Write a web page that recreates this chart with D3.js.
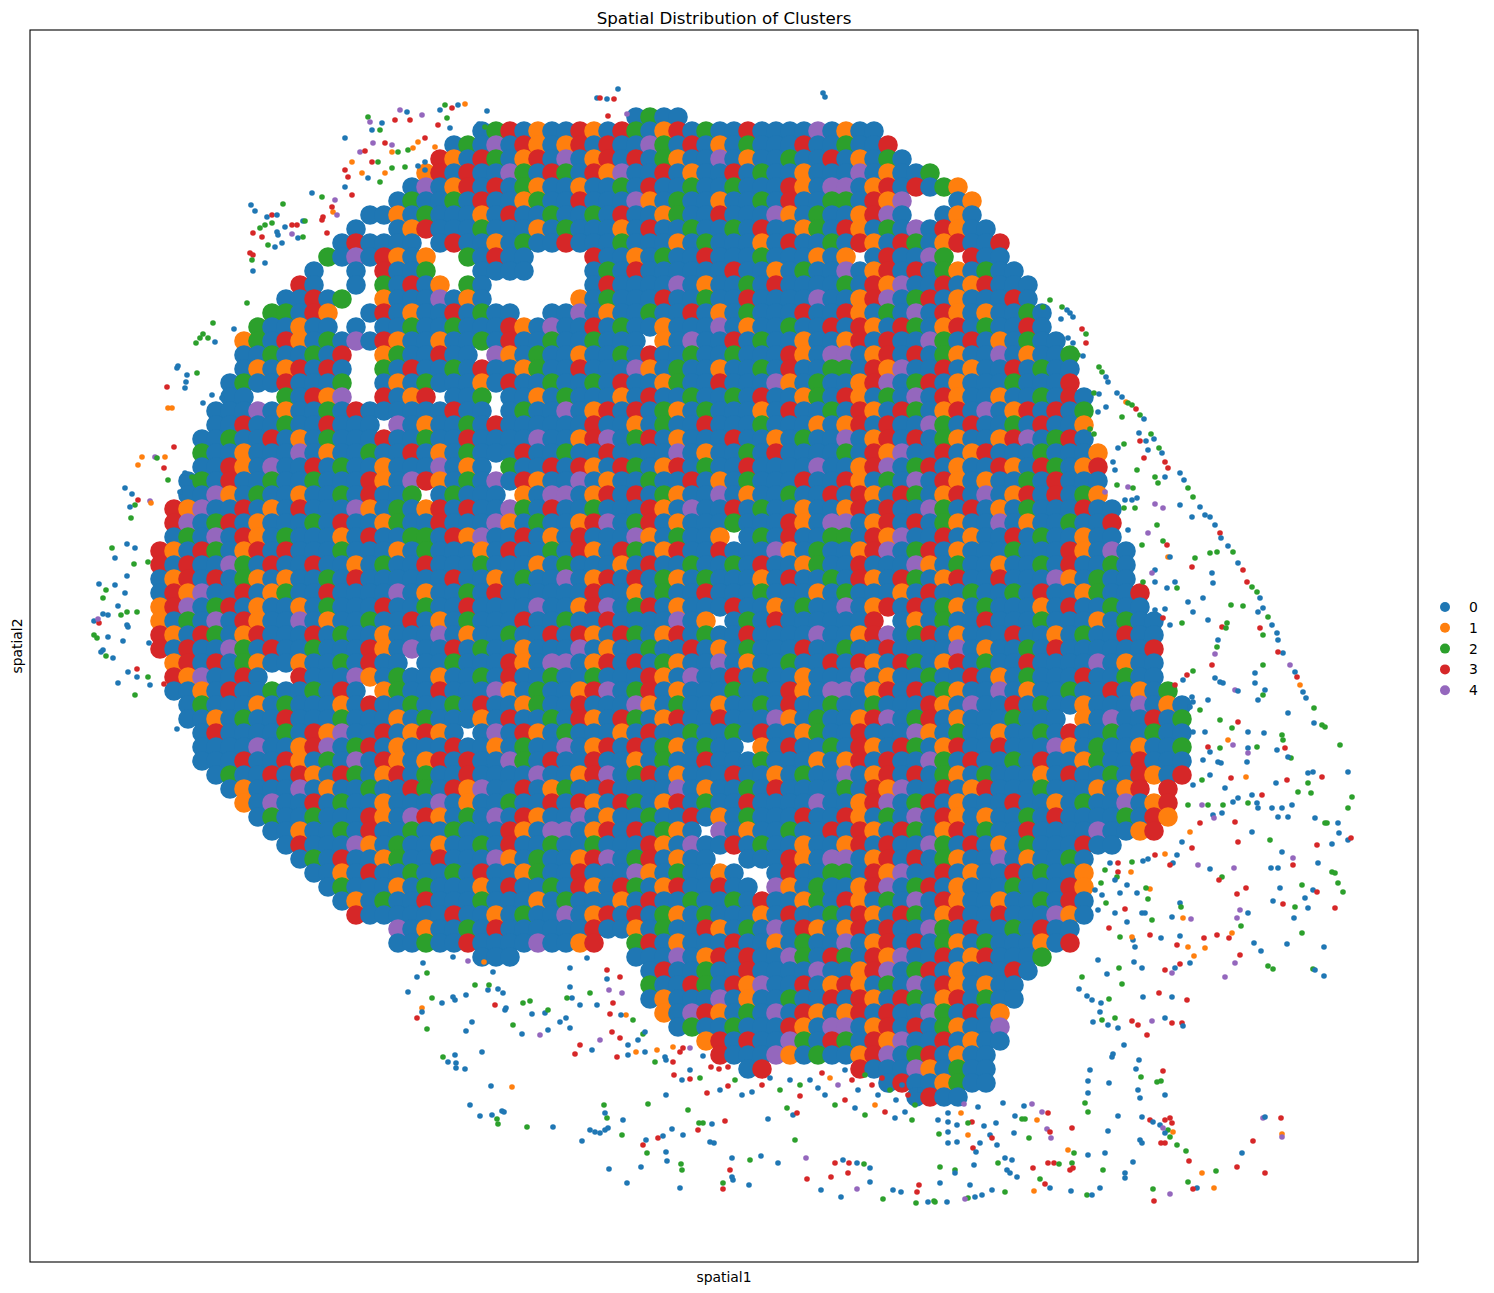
<html>
<head>
  <meta charset="utf-8">
  <script src="https://d3js.org/d3.v7.min.js"></script>
  <title>Spatial Distribution of Clusters</title>
  <style>
    body { margin: 0; background: #fff; }
    text { font-family: "DejaVu Sans", sans-serif; fill: #000; }
  </style>
</head>
<body>
  <svg id="chart" width="1494" height="1293"></svg>

  <script>
    // cluster labels and their tab10 colours
    const clusters = ["0", "1", "2", "3", "4"];
    const clusterColors = ["#1f77b4", "#ff7f0e", "#2ca02c", "#d62728", "#9467bd"];

    // extent of both spatial axes
    const spatial1Range = [30, 1418];
    const spatial2Range = [30, 1262];

    // the tissue, binned on a square grid (bin centres start at gridOrigin, gridStep apart).
    // one character per bin = cluster seen there, "." = no cells. Spaces only group columns by ten.
    const gridOrigin = [146, 117];
    const gridStep = 14;
    const tissueRows = [
      ".......... .......... .......... .....0200",
      ".......... .......... ....023010 0310320130 2003000040 100",
      ".......... .......... ..02040310 1303004203 0102000300 2003",
      ".......... .......... .310320130 4013030210 0401002003 01020",
      ".......... .......... 1303004203 2031400301 0030200100 0401002",
      ".......... .........0 4013030210 0100203002 0020003104 401303021",
      ".......... ........02 0020300120 0300041020 0100203002 20314...01",
      ".......... ......0010 2000103002 0020300120 0300041020 01340..010",
      ".......... .....0..01 3000200010 2000103002 0020300120 3102040310 0",
      ".......... ....030000 .030010200 3000200010 2000103002 0310320130 03",
      ".......... ...2040310 1..20300.. ..30010200 3000200010 1.030042.3 00",
      ".......... ..0..0.300 2...0000.. ..02030000 0030010200 4013030210 200",
      ".......... .30..0.203 01.20..... ..03000040 1002030000 2031400301 3000",
      ".......... 00302..100 04010..... .102000300 2003000040 0134023010 0030",
      ".........2 2031..0301 0030200..0 0401002003 0102000300 3102040310 10020",
      "........20 0100.0.002 0020003104 0030200100 0401002003 0310320130 20030",
      ".......120 3102040310 0100203002 002000.104 0030200100 1303004203 010200",
      ".......002 00203..120 0300.41020 0100203002 0020003104 4013030210 0401002",
      ".......010 13030..203 0020300120 0300041020 0100203002 2031400301 0030200",
      "......0200 30002..010 2000103002 0020300120 0300041020 0134023010 0020003",
      "......00.. 20314..301 3.002.0010 2000103002 0020300120 3102040310 01002030",
      ".....00040 1002030000 00300.0200 4013030210 2000103002 0310320130 40130302",
      ".....00300 2003000.40 1002030000 0030010200 3000200010 1303004203 00203001",
      "....002003 0102000300 2003000040 0134023010 0030010200 4013030210 01340230",
      "....200100 0401002003 0102000300 2003000040 1002030000 2031400301 300020001",
      "....003104 0030200100 04010.2003 0310320130 2003000040 0134023010 031032013",
      "...0203002 0020003104 3102040310 0401002003 0102000300 3102040310 100203000",
      "...0041020 0100203002 .02000.104 4013030210 0401002003 0310320130 401303021",
      "..31400301 0300041020 1303004203 0020003104 0030200100 1303004203 0102000300",
      "..34023010 0020300120 0300041020 0134023010 0020003104 4013030210 0401002003",
      "..02040310 2000103002 2031400301 0300041020 01.0203002 2031400301 0030200100",
      ".310320130 3000200010 2000103002 0310320130 0300041020 0134023010 0020003104 0",
      ".303004203 0030010200 3000200010 2000103002 0020300120 0300041020 0100203002 0",
      ".013030210 1002030000 0030010200 4013030210 2000103002 0310320130 0300041020 0",
      ".031400301 2003000040 1002030000 0030010200 3000200010 2000103002 0020300120 03",
      ".134023010 0102000300 2003000040 0134023010 0030010200 4013030210 2000103002 00",
      ".102040310 0401002003 0102000300 2003000040 1.02030000 003.010200 3000200010 200",
      ".310320130 0030200100 0401002003 0310320130 2003000040 0134023010 0030010200 300",
      ".303004203 0020003104 0030200100 0401002003 0102000300 2003000040 1002030000 003",
      "..13030210 010020300. 0020003104 4013030210 0401002003 0310320130 2003000040 100",
      "..3140030. .300041020 0100203002 0020003104 0030200100 0401002003 0102000300 200",
      "..00103002 002030.120 0300041020 0134023010 0020003104 4013030210 0401002003 0102",
      "...0200010 2000103002 0020300120 0300041020 0100203002 0020003104 0030200100 04010",
      "...0010200 3000200010 2000103002 0310320130 0300041020 0134023010 002000.104 00302",
      "....030000 2031400301 310.040310 2000103002 0020300120 0300041020 0100203002 00200",
      "....000040 0134023010 0030010200 4013030210 200.103002 0310320130 0300041020 01002",
      "....000300 3102040310 1303004203 0030010200 3000200010 1303004203 0020300120 03000",
      ".....02003 0310320130 2003000040 0134023010 0030010200 4013030210 2000103002 03103",
      "......0100 0401002003 2031400301 2003000040 1002030000 2031400301 3000200010 13.3",
      ".......104 0030200100 0401002003 0310320130 2003000040 0134023010 0030010200 4013",
      "........02 0020003104 3102040310 0401002003 0102000300 3102040310 1002030000 2031",
      ".........0 0100203002 0020003104 4013030210 .401002003 0310320130 2003000040 013",
      ".......... 0300041020 0100203002 0020003104 0030200100 1303004203 0102000300",
      ".......... .020300120 0300041020 0134023010 0..0003104 4013030210 04010020",
      ".......... ..00103002 0020300120 0300041020 010..03002 2031400301 00302001",
      ".......... ...0200010 2000103002 0310320130 0300.41020 0134023010 00200031",
      ".......... ....010200 3000200010 2000103002 0020300120 3102040310 01002030",
      ".......... .....30000 0030010200 4013030210 2000103002 0310320130 03000410",
      ".......... ........40 1002030000 0030010200 3102040310 1303004203 0020300",
      ".......... ........00 2003000040 013..23010 0030010200 4013030210 2000103",
      ".......... .......... ....000... .....00040 1303004203 2031400301 30002",
      ".......... .......... .......... ......0300 2003000040 0134023010 0030",
      ".......... .......... .......... ......2003 2031400301 3102040310 100",
      ".......... .......... .......... ......0100 0401002003 0310320130 200",
      ".......... .......... .......... .......104 3102040310 1303004203 01",
      ".......... .......... .......... ........02 0020003104 4013030210 04",
      ".......... .......... .......... .......... 1303004203 2031400301 00",
      ".......... .......... .......... .......... .300041020 0134023010 0",
      ".......... .......... .......... .......... ...03..... .300041020 0",
      ".......... .......... .......... .......... .......... ...0300120 0",
      ".......... .......... .......... .......... .......... .....0300"
    ];

    // single cells lying loose around the section: [spatial1, spatial2, cluster]
    const looseCells = [
      [618,89,0],[597,98,0],[600,98,3],[607,99,0],[614,99,3],[608,116,3],[627,114,4],[823,93,0],[825,97,0],
      [445,105,2],[440,110,0],[452,108,3],[447,118,2],[438,125,3],[450,128,0],[458,105,0],[465,104,1],
      [400,110,4],[407,112,0],[422,115,4],[487,111,0],[479,124,0],[485,127,2],
      [368,117,2],[370,122,4],[382,123,0],[372,130,0],[380,130,2],[395,120,3],[410,120,3],
      [345,138,0],[360,152,4],[365,151,3],[373,143,4],[385,143,3],[392,145,4],[392,152,1],[398,152,2],
      [408,150,2],[413,148,1],[418,142,1],[425,138,3],[435,147,1],[425,162,0],
      [352,162,1],[372,162,3],[378,162,2],[345,170,3],[348,177,3],[362,173,1],[368,178,0],[380,182,2],
      [392,168,2],[405,167,2],[418,166,0],[425,170,0],[385,173,1],
      [345,187,0],[352,195,3],[335,200,4],[322,197,2],[312,193,0],[333,212,1],[337,215,4],[332,207,3],
      [323,217,3],[322,220,3],[327,233,3],
      [283,204,2],[251,205,0],[255,211,0],[267,217,0],[272,215,3],[277,215,0],[285,227,0],[292,225,3],
      [297,225,3],[303,221,0],[305,221,2],[260,228,2],[265,225,2],[272,223,2],[262,237,3],[277,232,0],
      [278,235,0],[292,234,4],[298,238,0],[303,237,2],[268,245,2],[275,247,0],[282,243,0],[253,233,3],
      [250,253,3],[253,255,3],[252,260,2],[265,263,0],[253,271,0],[247,303,2],
      [213,323,2],[203,334,2],[200,338,2],[196,343,2],[208,338,2],[215,342,0],[234,329,0],
      [178,366,0],[177,368,0],[187,375,0],[197,373,2],[186,382,0],[185,388,0],[167,387,3],[168,408,1],
      [172,408,1],[212,395,0],[203,403,0],[222,398,0],
      [174,447,3],[142,457,1],[155,457,4],[165,457,1],
      [138,465,1],[157,458,2],[164,468,3],[168,480,2],[185,473,0],[192,477,2],
      [125,488,0],[132,494,0],[138,500,3],[150,501,4],[151,503,1],[135,505,2],[130,507,0],[131,518,2],[180,492,0],
      [112,548,2],[127,544,0],[135,548,0],[115,558,0],[134,564,2],[148,562,2],
      [127,576,0],[99,584,0],[115,585,0],[106,590,2],[103,598,2],[125,593,0],[118,606,0],[103,614,0],
      [108,615,0],[127,612,2],[137,612,2],[121,615,2],[94,621,0],[99,623,3],[98,619,4],[127,625,0],
      [128,627,0],[94,635,2],[97,638,2],[108,637,0],[123,641,0],[103,650,0],[101,652,0],[106,656,2],
      [113,658,0],[149,643,0],
      [128,672,0],[137,669,3],[137,677,0],[148,677,2],[150,685,0],[118,683,0],[135,695,2],[164,684,3],[177,729,0],
      [1050,300,2],[1043,307,2],[1062,307,2],[1067,310,0],[1070,313,0],[1073,317,0],[1061,319,0],
      [1082,329,3],[1086,334,2],[1086,343,3],[1068,338,0],[1073,343,0],[1078,355,2],[1083,356,0],
      [1099,367,2],[1102,372,2],[1106,377,0],[1108,382,0],[1094,393,2],[1099,394,0],[1117,393,0],
      [1122,397,0],[1126,402,1],[1128,403,2],[1132,405,2],[1098,412,0],[1106,407,0],[1136,409,3],
      [1140,415,2],[1144,419,0],[1122,417,2],[1124,444,2],[1118,448,0],[1139,433,0],[1140,441,3],
      [1146,441,0],[1151,434,2],[1154,439,0],[1159,448,2],[1162,453,0],[1144,458,3],[1148,450,0],
      [1090,429,2],[1094,434,2],
      [1113,462,0],[1115,470,0],[1137,470,2],[1165,462,3],[1168,468,3],[1155,477,2],[1165,477,0],
      [1180,473,0],[1184,480,0],[1105,492,4],[1117,485,2],[1128,487,4],[1133,488,2],[1158,483,2],
      [1188,488,2],[1193,497,2],[1125,500,0],[1132,500,0],[1137,498,0],[1124,508,2],[1135,508,2],
      [1155,504,4],[1163,508,4],[1180,505,0],[1200,507,0],[1205,515,0],[1210,517,0],[1192,517,0],
      [1215,525,0],[1220,533,3],[1221,538,0],[1228,546,0],[1233,552,2],[1238,563,0],[1243,570,3],
      [1247,582,3],[1252,587,2],[1257,592,2],[1260,598,0],[1263,608,0],[1268,617,2],[1272,625,0],
      [1277,633,0],[1278,640,0],[1283,653,0],[1278,652,3],[1290,665,4],[1295,672,0],[1297,677,3],
      [1300,685,1],[1303,692,0],[1306,698,0],
      [1157,525,2],[1128,530,0],[1148,533,4],[1163,541,2],[1142,545,2],[1167,545,3],[1168,557,1],
      [1170,557,0],[1195,558,2],[1210,553,2],[1217,552,2],[1155,570,0],[1152,573,4],[1192,567,3],
      [1212,573,0],[1213,583,0],[1143,582,2],[1155,582,0],[1175,582,0],[1177,588,2],[1167,588,0],
      [1188,602,0],[1203,598,0],[1193,612,0],[1208,620,0],[1231,605,2],[1243,606,2],[1258,612,0],
      [1155,610,0],[1165,609,0],[1163,618,3],[1170,625,0],[1182,623,2],[1222,627,3],[1227,623,2],
      [1226,628,2],[1218,640,0],[1217,647,2],[1215,654,4],[1260,628,3],[1263,635,2],[1263,665,2],
      [1255,673,0],[1255,683,0],[1263,695,2],[1258,700,0],[1265,690,0],[1288,713,0],[1314,708,2],
      [1314,723,0],[1322,725,2],[1325,727,2],[1340,745,2],[1348,772,0],[1352,797,2],[1348,808,2],
      [1338,823,0],[1339,833,0],[1325,823,2],
      [1212,665,3],[1193,671,2],[1187,675,3],[1175,685,3],[1183,680,0],[1215,678,0],[1220,682,0],
      [1223,683,0],[1235,690,4],[1238,691,0],[1208,700,0],[1192,697,0],[1193,702,0],[1190,707,0],
      [1200,710,2],[1220,720,2],[1238,722,3],[1232,728,2],[1248,732,0],[1264,733,0],[1282,735,2],
      [1283,740,2],[1285,748,3],[1291,758,2],[1288,757,0],[1277,750,0],[1248,748,0],[1248,753,4],
      [1257,747,2],[1228,740,1],[1233,745,4],[1205,732,0],[1193,732,0],[1220,748,2],[1208,747,3],
      [1210,752,0],[1203,760,0],[1218,762,0],[1221,763,0],[1247,762,0],[1308,773,0],[1313,772,0],
      [1322,777,3],[1308,783,2],[1287,780,3],[1276,783,0],[1246,777,1],[1231,778,3],[1210,775,0],
      [1202,780,2],[1193,785,0],[1225,788,0],[1298,792,2],[1311,793,2],[1262,795,3],[1252,795,0],
      [1238,798,0],[1233,802,0],[1248,803,2],[1257,803,0],[1258,808,0],[1292,805,0],[1272,808,0],
      [1282,808,0],[1278,817,0],[1288,817,0],[1315,818,0],[1327,823,2],[1202,805,4],[1208,805,2],
      [1223,805,2],[1213,815,0],[1214,818,4],[1222,813,0],[1235,822,3],[1188,805,2],[1200,823,3],[1190,832,1],
      [1182,842,0],[1192,848,3],[1238,842,3],[1270,840,2],[1282,852,0],[1317,845,3],[1332,844,0],
      [1348,840,0],[1351,838,3],[1252,832,0],
      [1177,855,0],[1165,854,1],[1155,855,3],[1148,859,0],[1143,861,0],[1132,862,2],[1173,863,0],
      [1170,865,3],[1198,865,4],[1210,869,0],[1234,868,4],[1222,877,2],[1219,880,3],[1293,858,4],
      [1293,865,3],[1271,868,0],[1278,868,0],[1318,863,0],[1332,872,2],[1335,873,2],[1338,883,2],
      [1343,892,2],[1313,890,0],[1317,892,3],[1302,885,2],[1280,888,0],[1273,901,0],[1283,904,3],
      [1295,907,2],[1305,898,0],[1308,908,0],[1335,908,3],[1294,918,0],[1302,933,2],[1324,947,0],
      [1324,976,0],[1313,969,2],[1315,970,0],[1287,944,0],[1254,943,0],[1261,951,0],[1268,966,2],
      [1273,969,2],[1237,894,3],[1246,888,3],[1248,913,0],[1240,910,4],[1237,918,4],[1241,926,2],
      [1232,933,1],[1229,938,3],[1217,935,3],[1204,938,3],[1205,948,1],[1188,947,1],[1194,956,1],
      [1190,963,0],[1180,964,3],[1172,973,4],[1175,968,0],[1165,970,3],[1225,977,4],[1235,963,4],
      [1240,955,3],[1180,936,0],[1177,945,3],[1150,935,3],[1161,938,0],[1172,917,0],[1183,918,1],
      [1191,919,4],[1180,903,0],[1181,907,2],[1152,920,2],[1142,913,0],[1145,913,0],[1148,899,2],
      [1150,889,1],[1146,888,2],[1137,893,0],[1127,885,0],[1120,893,0],[1115,913,0],[1125,909,3],
      [1127,922,0],[1135,947,0],[1133,940,0],[1120,937,2],[1132,937,1],[1109,928,3],[1098,910,0],
      [1102,895,0],[1106,903,2],[1095,890,0],[1101,883,2],[1105,870,2],[1110,863,0],[1118,863,3],
      [1118,872,3],[1131,872,1],[1117,877,2],[1115,880,0],
      [1098,960,0],[1107,974,0],[1119,968,2],[1122,984,2],[1134,962,0],[1142,968,0],[1079,989,0],
      [1082,977,2],[1087,996,0],[1092,1000,0],[1101,1003,0],[1109,999,2],[1093,1022,0],[1100,1012,0],
      [1102,1020,2],[1108,1025,0],[1115,1018,2],[1118,1028,0],[1112,1057,0],[1113,1054,0],[1124,1045,0],
      [1132,1021,3],[1138,1025,3],[1147,1035,3],[1143,997,0],[1159,993,3],[1172,997,0],[1187,1000,3],
      [1152,1021,4],[1165,1018,0],[1172,1023,3],[1182,1023,3],[1183,1026,0],[1139,1060,0],[1136,1069,0],
      [1163,1071,3],[1141,1077,2],[1138,1090,0],[1140,1098,0],[1165,1095,0],[1157,1082,2],[1161,1081,2],
      [1109,1083,0],[1090,1070,0],[1088,1081,0],[1088,1093,0],[1085,1103,2],[1088,1112,2],[1118,1116,0],
      [1105,1153,0],[1088,1155,0],[1074,1153,2],[1072,1163,2],[1073,1168,3],[1070,1170,3],[1068,1150,1],
      [1072,1128,3],[1103,1170,2],[1125,1173,0],[1125,1178,0],[1133,1162,0],[1100,1188,0],[1087,1195,2],
      [1092,1195,0],[1071,1191,0],[1050,1188,0],[1045,1184,3],[1034,1191,1],[1040,1179,2],[1033,1168,3],
      [1048,1163,3],[1054,1163,3],[1059,1164,2],[1051,1138,4],[1047,1129,4],[1042,1112,4],[1048,1113,3],
      [1050,1132,3],[1025,1119,2],[1037,1120,1],[1029,1138,2],[1014,1133,0],[1005,1158,0],[1012,1160,0],
      [1017,1177,0],[998,1163,2],[1007,1170,0],[1010,1173,0],[992,1190,0],[982,1195,0],[975,1197,0],
      [968,1198,2],[965,1199,4],[1005,1192,2],[970,1185,0],[947,1202,0],[935,1202,2],[940,1183,0],
      [940,1167,2],[955,1170,2],[955,1173,0],[974,1165,0],[939,1134,2],[948,1132,0],[957,1142,0],
      [948,1143,0],[968,1135,1],[973,1148,3],[976,1152,0],[980,1143,0],[990,1135,0],[992,1138,3],
      [997,1145,0],[996,1123,0],[1003,1103,0],[1015,1116,0],[1022,1119,2],[1024,1106,0],[1032,1104,4],
      [984,1126,0],[972,1122,3],[968,1123,2],[957,1125,0],[948,1122,0],[938,1120,0],[948,1113,0],
      [961,1113,1],[964,1104,4],[978,1107,0],
      [1263,1118,4],[1265,1117,0],[1281,1118,3],[1282,1134,1],[1282,1137,4],[1253,1141,3],[1242,1153,0],
      [1265,1173,3],[1237,1167,3],[1216,1171,2],[1202,1173,1],[1214,1188,1],[1197,1188,0],[1193,1189,3],
      [1188,1182,2],[1189,1161,3],[1186,1151,2],[1177,1145,2],[1170,1194,4],[1154,1201,3],[1153,1189,2],
      [1165,1143,3],[1161,1143,3],[1160,1125,0],[1165,1120,3],[1170,1118,3],[1172,1123,3],[1168,1130,2],
      [1173,1132,1],[1170,1137,2],[1165,1133,0],[1163,1128,4],[1150,1120,3],[1153,1122,0],[1142,1117,0],
      [1140,1140,0],[1142,1143,0],[1108,1131,0],
      [553,1127,0],[527,1127,2],[582,1141,0],[590,1130,0],[595,1132,0],[600,1133,0],[605,1130,0],
      [608,1128,0],[607,1118,2],[605,1113,0],[604,1105,2],[609,1169,0],[623,1120,0],[622,1135,2],
      [627,1183,0],[641,1167,0],[643,1145,3],[646,1140,0],[647,1153,2],[658,1138,3],[663,1136,0],
      [666,1152,0],[667,1161,0],[672,1129,0],[683,1135,0],[681,1164,2],[682,1170,2],[680,1188,0],
      [648,1104,2],[666,1095,0],[688,1110,2],[707,1093,3],[699,1123,2],[703,1123,2],[698,1130,3],
      [712,1124,0],[710,1142,0],[714,1143,0],[725,1121,3],[730,1170,3],[732,1177,0],[733,1180,0],
      [723,1189,3],[723,1183,2],[732,1158,0],[749,1185,0],[750,1160,2],[761,1156,0],[778,1163,0],
      [806,1158,4],[807,1179,3],[795,1140,2],[768,1119,0],[787,1108,2],[793,1115,0],[797,1113,3],
      [800,1096,3],[821,1190,0],[831,1177,3],[841,1197,0],[857,1189,4],[849,1163,3],[843,1160,0],
      [835,1163,3],[857,1163,0],[864,1164,2],[870,1168,0],[848,1173,3],[870,1182,0],[893,1190,0],
      [901,1192,0],[917,1192,3],[919,1185,3],[916,1203,2],[928,1202,0],[934,1201,2],[883,1199,2],
      [822,1073,3],[830,1078,1],[838,1085,4],[845,1070,0],[852,1080,3],[858,1090,0],[865,1075,2],
      [872,1085,3],[878,1095,0],[882,1078,3],[890,1090,2],[896,1100,0],[902,1085,0],[908,1095,3],
      [915,1105,2],[920,1090,0],[845,1100,3],[855,1108,0],[865,1115,2],[875,1105,1],[885,1112,3],
      [895,1118,0],[905,1112,0],[912,1120,2],[825,1095,0],[835,1105,2],[818,1088,0],[810,1080,0],
      [800,1085,2],[790,1080,0],[780,1090,2],[770,1078,0],[762,1085,3],[752,1092,0],[742,1095,0],
      [735,1080,2],[728,1086,3],[720,1090,0],[700,1078,2],[690,1070,0],[682,1080,0],[674,1075,3],
      [666,1060,0],[655,1062,2],[645,1052,0],[636,1052,1],[628,1045,0],[620,1038,3],[612,1032,3],
      [600,1040,4],[592,1050,0],[580,1045,3],[570,1028,0],[560,1022,0],[548,1030,0],[540,1035,4],
      [522,1034,0],[513,1025,2],[505,1010,0],[495,1005,3],[488,990,0],[475,985,2],[466,995,0],
      [455,1000,0],[442,1003,0],[432,998,2],
      [570,987,0],[572,998,0],[567,998,2],[590,993,2],[580,1005,0],[597,1005,0],[607,970,3],[607,979,0],
      [620,977,3],[622,993,4],[609,990,4],[613,1003,3],[610,1014,3],[626,1015,1],[633,1020,2],[621,1015,0],
      [523,1003,2],[530,1001,2],[532,1014,0],[545,1013,0],[548,1010,2],[566,1018,0],[575,1054,3],
      [617,1057,3],[628,1055,0],[638,1040,0],[643,1034,2],[645,1032,0],[657,1050,1],[665,1057,0],
      [673,1047,1],[680,1052,3],[683,1048,3],[673,1062,3],[690,1048,4],[703,1056,0],[711,1067,3],
      [719,1069,3],[728,1067,3],[690,1079,3],[570,968,0],[587,958,0],
      [423,963,0],[427,973,2],[417,977,0],[408,992,0],[422,1008,1],[422,1012,0],[417,1018,3],[427,1029,2],
      [453,997,0],[472,1022,0],[466,1031,0],[482,1052,0],[443,1057,2],[448,1062,0],[455,1055,0],
      [456,1063,0],[456,1068,0],[465,1069,0],[491,1086,0],[512,1087,1],[470,1105,0],[480,1116,0],
      [492,1115,0],[502,1111,0],[504,1112,0],[497,1119,2],[498,1124,2],[489,985,2],[498,989,0],
      [503,993,0],[506,1008,0],[453,957,0],[468,961,4],[484,962,1],[493,972,0]
    ];

    const svg = d3.select("#chart");

    let x = d3.scaleLinear().domain(spatial1Range).range([30, 1418]);
    let y = d3.scaleLinear().domain(spatial2Range).range([30, 1262]);
    let color = d3.scaleOrdinal().domain(d3.range(clusters.length)).range(clusterColors);

    // unpack the binned tissue into one record per occupied bin
    let bins = [];
    tissueRows.forEach((row, r) => {
      row.replace(/ /g, "").split("").forEach((ch, c) => {
        if (ch !== ".") {
          bins.push({ s1: gridOrigin[0] + c * gridStep, s2: gridOrigin[1] + r * gridStep, k: +ch });
        }
      });
    });

    let binRadius = (x(gridStep) - x(0)) * 0.7;

    let plot = svg.append("g");

    plot.selectAll(".bin").data(bins).join("circle")
      .attr("class", "bin")
      .attr("cx", d => x(d.s1))
      .attr("cy", d => y(d.s2))
      .attr("r", binRadius)
      .attr("fill", d => color(d.k));

    plot.selectAll(".cell").data(looseCells).join("circle")
      .attr("class", "cell")
      .attr("cx", d => x(d[0]))
      .attr("cy", d => y(d[1]))
      .attr("r", 2.8)
      .attr("fill", d => color(d[2]));

    // axes frame, no ticks
    svg.append("rect")
      .attr("x", x(spatial1Range[0]))
      .attr("y", y(spatial2Range[0]))
      .attr("width", x(spatial1Range[1]) - x(spatial1Range[0]))
      .attr("height", y(spatial2Range[1]) - y(spatial2Range[0]))
      .attr("fill", "none")
      .attr("stroke", "#000")
      .attr("stroke-width", 1.1);

    // title and axis labels
    svg.append("text")
      .attr("x", 724).attr("y", 24)
      .attr("text-anchor", "middle")
      .attr("font-size", 16.7)
      .text("Spatial Distribution of Clusters");

    svg.append("text")
      .attr("x", 724).attr("y", 1282)
      .attr("text-anchor", "middle")
      .attr("font-size", 13.9)
      .text("spatial1");

    svg.append("text")
      .attr("transform", "translate(22,646) rotate(-90)")
      .attr("text-anchor", "middle")
      .attr("font-size", 13.9)
      .text("spatial2");

    // legend
    let legend = svg.append("g").attr("transform", "translate(1445,607)");
    let items = legend.selectAll("g").data(clusters).join("g")
      .attr("transform", (d, i) => `translate(0,${i * 20.8})`);
    items.append("circle").attr("r", 5).attr("fill", (d, i) => clusterColors[i]);
    items.append("text").attr("x", 24).attr("y", 5).attr("font-size", 13.9).text(d => d);
  </script>
</body>
</html>
